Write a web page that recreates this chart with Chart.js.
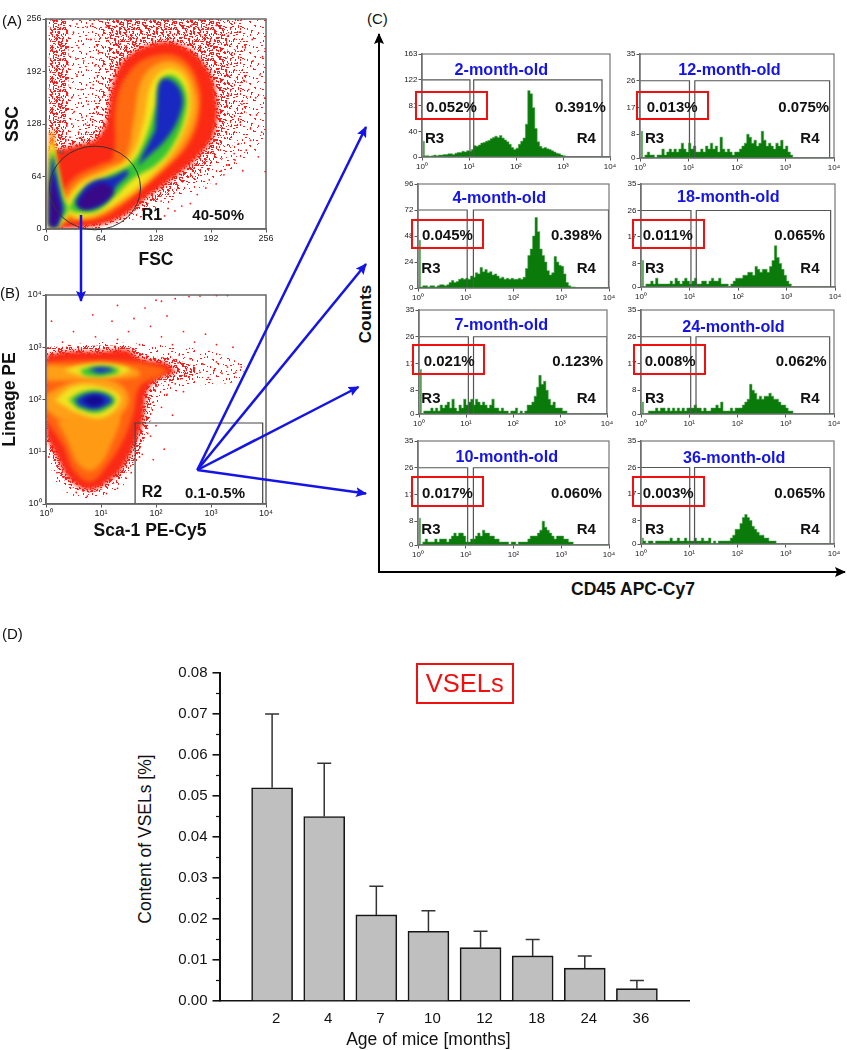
<!DOCTYPE html>
<html><head><meta charset="utf-8">
<style>
html,body{margin:0;padding:0;background:#fff;width:847px;height:1050px;overflow:hidden}
#stage{position:relative;width:847px;height:1050px;font-family:"Liberation Sans",Arial,sans-serif;color:#111}
canvas{position:absolute}
.t{position:absolute;white-space:nowrap;line-height:1}
.b{font-weight:bold}
.box{position:absolute;border-style:solid;box-sizing:border-box}
svg{position:absolute;left:0;top:0}
</style>
<script src="https://cdn.jsdelivr.net/npm/chart.js@4/dist/chart.umd.js"></script>
</head><body><div id="stage"></div>
<script>
/* ---------- Panel A: FSC / SSC density contours, flat x,y pairs ---------- */
const aSparse=[3,0,60,0,110,14,150,35,200,60,256,105,256,256,3,256];
const aMedTop=[55,256,225,256,232,200,232,135,205,85,160,50,118,25,75,6,40,2,22,70,40,105,60,170];
const aDenseTop=[70,256,200,256,212,200,210,135,190,85,150,50,110,26,70,8,40,3,24,100,62,125,75,185];
const aDenseLeft=[3,95,22,95,26,170,24,256,5,256];
const aRed=[24,99,63,115,78,177,90,205,121,225,156,225,187,197,199,156,195,115,176,87,148,62,117,38,94,18,63,5,24,1,5,1,5,95];
const aOrange=[12,34,32,62,63,79,78,87,82,156,98,193,125,211,156,209,176,181,179,144,168,107,145,79,117,54,90,30,63,13,32,9,9,5];
const aAmber=[18,30,38,58,71,75,92,87,102,132,111,181,133,203,158,199,174,168,174,136,158,99,133,71,106,46,78,26,51,13,30,13];
const aYellow=[20,26,40,54,75,71,98,87,113,128,123,177,141,195,160,187,168,156,162,124,145,91,121,64,90,38,63,20,36,13];
const aGreen=[26,24,40,46,71,64,98,79,113,103,127,148,133,181,148,187,162,168,162,140,148,103,129,79,102,62,78,38,59,22,36,20];
const aBlueLow=[34,34,51,56,78,64,95,72,95,66,82,52,71,34,51,24,38,26];
const aBlueUp=[127,120,129,148,133,180,145,182,158,165,156,140,140,110,115,85,108,78,112,90];
const aPurple=[36,30,47,46,67,56,78,46,71,36,55,26,42,24];
const aStemOrange=[4,2,4,115,9,120,13,60,18,20,12,2];
const aStemYellow=[3,2,4,100,8,105,12,85,22,40,30,24,20,8,14,1];
const aStemGreen=[3,3,5,83,8,95,11,83,20,38,26,24,16,9,14,2];
const aStemBlue=[4,3,5,70,8,88,11,70,18,36,20,24,15,8,13,2];
const aStemPurple=[4,4,5,50,8,66,11,50,16,30,17,20,13,8,11,3];
const aSpeckle=[32,240,38,221,44,205,36,188,41,170,49,152,33,143,52,231,57,199,46,128,38,118,55,176,61,214,30,160,48,246,35,207,
 225,240,232,221,241,205,249,188,236,170,228,152,245,139,251,118,238,122,224,104,233,96,247,88,219,92,212,78,229,71,207,66,240,231,252,210,
 216,214,230,181,244,160,226,130,204,71,198,55,186,50,176,42,168,31,158,28,150,22,138,16,127,12,121,22,134,34,142,25,190,60,220,84,238,108,
 42,136,30,128,28,112,60,140,70,246,95,250,130,252,170,249,198,248,212,236,36,250,54,250,14,240,18,222,22,198,10,180,16,160,12,212,255,160,255,70,255,220];
const r1Gate=[57,50,53,51];

/* ---------- Panel B: log10 positions of the Sca-1 / Lineage density contours ---------- */
const bSparse=[0,1.1,.2,.35,.6,.12,1,.14,1.4,.35,1.7,.9,1.8,1.5,2.1,2,2.6,2.25,3.5,2.35,3.6,2.65,2.9,2.95,2,3.05,1,3.1,0,3];
const bHalo=[0,3,1.47,3.02,1.8,2.85,2.3,2.78,2.7,2.62,2.7,2.45,2.1,2.3,1.95,2.1,1.9,1.6,1.75,1.15,1.5,.65,1.25,.4,.8,.22,.4,.38,.15,.8,0,1.2];
const bRed=[0,2.85,.38,2.92,.98,2.92,1.47,2.95,1.71,2.79,2.2,2.69,2.3,2.6,2.35,2.52,2.02,2.38,1.83,2.12,1.77,1.61,1.65,1.23,1.41,.72,1.17,.46,.8,.27,.44,.46,.19,.91,0,1.29];
const bDeep=[0,2.72,.68,2.75,1.59,2.72,2.2,2.57,2.05,2.44,1.71,2.25,1.59,1.74,1.41,1.23,1.1,.72,.8,.43,.5,.65,.32,1.1,0,1.61];
const bAmberTop=[0,2.66,.68,2.63,1.6,2.6,1.7,2.45,.9,2.38,0,2.36];
const bAmberMid=[0,2.1,.56,2.36,1.2,2.36,1.5,2.05,1.3,1.65,.9,1.5,.3,1.6,0,1.8];
const bAmberLow=[.2,1.6,1.3,1.74,1.17,1.1,.86,.65,.6,.75,.38,1.23];
const bYellowTop=[.32,2.56,.68,2.67,1.17,2.69,1.53,2.57,1.23,2.45,.68,2.44];
const bYellowLow=[.16,1.99,.5,2.25,.98,2.25,1.35,2.06,1.23,1.77,.92,1.64,.5,1.77];
const bGreenTop=[.62,2.57,.92,2.63,1.29,2.6,1.32,2.52,.98,2.44,.68,2.47];
const bGreenLow=[.41,2,.68,2.15,1.04,2.15,1.26,2,1.14,1.84,.89,1.74,.56,1.84];
const bBlueTop=[.77,2.57,.98,2.62,1.23,2.57,.98,2.5];
const bBlueLow=[.53,2,.74,2.11,1.04,2.11,1.2,1.98,1.07,1.87,.86,1.81,.59,1.88];
const bNavyLow=[.65,1.99,.86,2.08,1.04,2.02,1.01,1.9,.8,1.87];
const bSpeckle=[2.1,2.72,2.25,2.62,2.4,2.7,2.55,2.45,2.7,2.6,2.8,2.52,2.85,2.68,2.95,2.42,3.05,2.55,3.1,2.72,3.2,2.5,3.3,2.62,3.45,2.52,3.55,2.62,2.62,2.78,2.42,2.85,
 2,2.25,2.2,2.1,2.35,2.3,2.5,2.15,1.95,1.95,2.1,1.85,2.3,1.7,2,1.5,1.85,1.35,2.15,1.05,1.95,.85,1.75,.95,1.65,1.45,1.7,.9,1.9,1.3,
 1.3,3.15,1.5,3.3,1.7,3.05,1.9,3.4,2.1,3.2,2.3,3.05,2.5,3.3,2.7,3.1,2.9,3.25,3.1,3.05,3.4,3,.9,3.2,.5,3.3,1.2,3.5,1.6,3.55,1.8,3.75,2.2,3.6,
 1.3,3.8,2,3.9,2.1,3.88,2.35,3.93,2.6,3.97,2.8,3.98,3.1,3.99,3.3,3.99,.85,3.62,.3,3.1,.1,3.5,.1,1.1,.05,.9,.2,.6,.35,.5,.55,.22,.75,.15,1.1,.2,1.3,.3,1.45,.5,1.55,.6];
const r2Gate=[1.62,3.94,0,1.55];

/* ---------- Panel C: CD45 histograms, counts per bin (20 bins per decade) ---------- */
const panelNames=['2-month-old','4-month-old','7-month-old','10-month-old','12-month-old','18-month-old','24-month-old','36-month-old'];
const r3Percent=['0.052%','0.045%','0.021%','0.017%','0.013%','0.011%','0.008%','0.003%'];
const r4Percent=['0.391%','0.398%','0.123%','0.060%','0.075%','0.065%','0.062%','0.065%'];
const h2=[25,2,2,1,2,3,2,3,3,4,4,5,5,4,6,7,7,9,8,10,9,12,18,17,19,22,23,25,26,29,31,33,31,34,30,27,24,20,15,12,14,20,25,30,52,105,100,78,45,24,17,14,15,13,12,10,8,6,5,3,2,1];
const h4=[44,1,2,2,1,2,2,1,2,3,3,2,3,5,7,5,6,8,9,8,9,8,11,10,14,13,19,15,17,14,15,12,13,11,9,10,8,9,8,9,8,8,9,8,10,18,30,36,48,65,52,36,30,24,16,12,14,29,24,21,20,13,5,2,1,1];
const h7=[15,0,1,1,1,2,1,2,1,3,2,3,4,2,5,2,1,3,2,5,3,4,5,3,5,4,3,4,3,2,3,5,2,2,1,2,1,1,0,1,1,2,0,1,0,1,3,3,4,6,9,13,10,11,8,5,3,4,2,2,2,1,1];
const h10=[9,0,1,2,1,1,1,2,1,2,2,2,1,2,3,4,3,4,4,3,1,1,2,2,3,4,3,5,4,4,3,3,2,2,1,1,1,1,0,1,1,0,1,1,1,1,2,3,3,3,4,5,8,6,5,4,3,2,3,3,3,2,2,1,1];
const h12=[9,0,1,2,1,1,0,1,1,3,1,2,3,2,3,2,3,5,3,2,5,3,4,2,2,3,2,4,3,5,3,4,2,7,3,2,3,2,1,2,2,3,4,5,8,7,5,6,4,5,9,6,4,5,4,3,5,4,6,3,4,2,1];
const h18=[9,0,1,1,2,1,3,1,1,1,1,1,2,1,3,2,1,2,3,2,1,2,3,1,1,2,2,1,2,3,2,2,3,1,1,1,0,1,2,3,3,3,4,4,5,5,4,7,6,5,6,6,5,7,9,14,10,8,6,4,2,1];
const h24=[4,0,0,1,1,1,2,1,2,2,1,2,1,2,1,2,1,2,1,2,2,2,3,2,2,1,2,1,1,2,2,3,2,4,1,1,1,2,1,2,2,2,3,4,5,10,8,7,5,6,5,6,6,7,6,5,5,4,3,3,2,1,1];
const h36=[2,1,0,1,1,0,1,1,1,1,1,1,2,1,1,2,1,1,2,1,1,1,2,1,1,2,1,1,2,0,1,0,1,1,1,1,1,2,3,5,5,7,9,10,9,8,6,5,4,3,3,2,2,1,1,1];
const histograms=[h2,h4,h7,h10,h12,h18,h24,h36];
const yTicks5=[0,40,81,122,163], yTicks4=[0,24,48,72,96], yTicksLow=[0,8,17,26,35];
const histTicks=[yTicks5,yTicks4,yTicksLow,yTicksLow,yTicksLow,yTicksLow,yTicksLow,yTicksLow];
const gateLevels=[122,72,26,26,26,26,26,26];
const r3Right=[1.02,1.03,1.05,1.04,1.02,1.03,1.03,1.01];
const r4Left=[1.10,1.16,1.16,1.16,1.13,1.14,1.14,1.11];
const r4Right=[3.83,3.99,4,4,3.91,3.91,3.91,3.92];

/* ---------- Panel D: bars ---------- */
const ages=['2','4','7','10','12','18','24','36'];
const vselMean=[0.052,0.045,0.021,0.017,0.013,0.011,0.008,0.003];
const vselUpper=[0.070,0.058,0.028,0.022,0.017,0.015,0.011,0.005];
const minorTicksD=[0.005,0.015,0.025,0.035,0.045,0.055,0.065,0.075];

/* ---------- helpers ---------- */
const stage=document.getElementById('stage');
Chart.defaults.font.family='"Liberation Sans",Arial,sans-serif';
Chart.defaults.animation=false;
Chart.defaults.responsive=false;
Chart.defaults.events=[];
Chart.defaults.plugins.legend.display=false;
Chart.defaults.plugins.tooltip.enabled=false;
const SUP=['\u2070','\u00B9','\u00B2','\u00B3','\u2074'];
const pairs=(f,m)=>{const o=[];for(let i=0;i<f.length;i+=2)o.push(m?{x:m(f[i]),y:m(f[i+1])}:{x:f[i],y:f[i+1]});return o;};
const tenTo=v=>Math.pow(10,v);

/* speckle texture: a fixed tile used as a fill style for the sparse event regions */
const tileDots=[[2,3],[9,1],[15,5],[23,2],[31,4],[35,9],[5,9],[12,11],[19,8],[27,10],[33,14],[1,15],[8,16],[16,14],[22,17],[29,19],[36,21],[4,22],[11,24],[18,20],[25,25],[32,27],[7,29],[14,28],[21,30],[28,23]];
const tileShifts=[[0,0],[13,6],[24,13],[6,19],[17,25],[30,8],[3,12],[21,3],[10,27],[28,17],[35,24],[14,15]];
function speckleFill(levels){
  const c=document.createElement('canvas');c.width=37;c.height=31;const g=c.getContext('2d');g.fillStyle='#fb1c1c';
  for(let s=0;s<levels;s++)tileDots.forEach((d,i)=>{const x=(d[0]+tileShifts[s][0])%37,y=(d[1]+tileShifts[s][1])%31;
    g.fillRect(x,y,i%3===0?2:1,i%3===1?2:1);});
  return g.createPattern(c,'repeat');
}
const FEW=speckleFill(2),SOME=speckleFill(5),MANY=speckleFill(12);

function mount(plot,m){
  const c=document.createElement('canvas');
  const W=plot.r-plot.l+m.l+m.r,H=plot.b-plot.t+m.t+m.b;
  c.width=Math.ceil(W);c.height=Math.ceil(H);
  c.style.left=(plot.l-m.l)+'px';c.style.top=(plot.t-m.t)+'px';
  stage.appendChild(c);
  return c;
}
function text(x,y,s,o={}){
  const d=document.createElement('div');d.className='t'+(o.bold?' b':'');d.textContent=s;
  d.style.left=x+'px';d.style.top=y+'px';d.style.fontSize=(o.size||15)+'px';
  if(o.color)d.style.color=o.color;
  const tx=o.anchor==='left'?'0':'-50%';
  d.style.transform=`translate(${tx},-50%)`+(o.rotate?' rotate(-90deg)':'');
  stage.appendChild(d);
}
function redBox(l,t,r,b,w=2.5,color='#f01010'){
  const d=document.createElement('div');d.className='box';
  d.style.cssText+=`left:${l}px;top:${t}px;width:${r-l}px;height:${b-t}px;border-width:${w}px;border-color:${color}`;
  stage.appendChild(d);
}
const frame=(color,w)=>({id:'frame',afterDatasetsDraw(ch){const a=ch.chartArea,c=ch.ctx;c.save();c.strokeStyle=color;c.lineWidth=w;c.strokeRect(a.left,a.top,a.right-a.left,a.bottom-a.top);c.restore();}});
/* solid contours are softened; speckle layers and gates stay crisp */
const soften=px=>({id:'soften',
  beforeDatasetsDraw(ch){ch.$blur=false;ch.ctx.filter='none';},
  beforeDatasetDraw(ch,a){if(ch.data.datasets[a.index].crisp)ch.ctx.filter='none';},
  afterDatasetDraw(ch,a){const d=ch.data.datasets[a.index];if(d.blurAfter)ch.$blur=true;ch.ctx.filter=ch.$blur?`blur(${px}px)`:'none';},
  afterDatasetsDraw(ch){ch.ctx.filter='none';}});
function axisBase(size,font,title,titleGap){
  return {border:{color:'#666',width:1.5},grid:{drawOnChartArea:false,drawTicks:true,tickLength:3.5,tickColor:'#555',lineWidth:1},
    ticks:{font:{size:font},color:'#222',padding:1,maxRotation:0,autoSkip:false},
    title:title?{display:true,text:title,font:{size:17.5,weight:'bold'},color:'#111',padding:{top:titleGap||0,bottom:0}}:{display:false},
    afterFit(s){if(s.isHorizontal())s.height=size;else s.width=size;}};
}
function density(list){
  return list.map((p,i)=>({data:p.pts,showLine:true,fill:'shape',backgroundColor:p.color,borderWidth:0,pointRadius:0,tension:p.t===undefined?0.4:p.t,order:-i,blurAfter:!!p.last}));
}
function speckle(data,order){return {data,showLine:false,pointRadius:.9,backgroundColor:'#ff1a1a',borderWidth:0,order,crisp:true};}

/* ---------- Panel A ---------- */
(function(){
  const plot={l:46,r:265.5,t:18.5,b:228};
  const layers=[
    {pts:pairs(aSparse),color:FEW,t:0},
    {pts:pairs(aMedTop),color:SOME,t:.3},
    {pts:pairs(aDenseLeft),color:MANY,t:.2},
    {pts:pairs(aDenseTop),color:MANY,t:.3,last:true},
    {pts:pairs(aRed),color:'#fb2a14'},
    {pts:pairs(aOrange),color:'#ff6a10'},
    {pts:pairs(aStemOrange),color:'#ff8a12'},
    {pts:pairs(aAmber),color:'#ffa818'},
    {pts:pairs(aYellow),color:'#f2e61e'},
    {pts:pairs(aStemYellow),color:'#f2e61e'},
    {pts:pairs(aGreen),color:'#35c435'},
    {pts:pairs(aStemGreen),color:'#35c435'},
    {pts:pairs(aBlueLow),color:'#1828c0'},
    {pts:pairs(aBlueUp),color:'#1828c0'},
    {pts:pairs(aStemBlue),color:'#1828c0'},
    {pts:pairs(aPurple),color:'#380a88'},
    {pts:pairs(aStemPurple),color:'#380a88'}];
  const ds=density(layers);ds.push(speckle(pairs(aSpeckle),-100));
  const mk=(title,size,gap)=>{const a=axisBase(size,9,title,gap);return Object.assign(a,{type:'linear',min:0,max:256,ticks:Object.assign(a.ticks,{stepSize:64})});};
  const ellipse={id:'r1',afterDatasetsDraw(ch){
    const sx=ch.scales.x,sy=ch.scales.y,c=ch.ctx,[cx,cy,rx,ry]=r1Gate;
    const px=sx.getPixelForValue(cx),py=sy.getPixelForValue(cy);
    c.save();c.filter='none';c.strokeStyle='#333';c.lineWidth=1;c.beginPath();
    c.ellipse(px,py,Math.abs(sx.getPixelForValue(cx+rx)-px),Math.abs(sy.getPixelForValue(cy+ry)-py),0,0,Math.PI*2);c.stroke();c.restore();}};
  new Chart(mount(plot,{l:46,r:12,t:8,b:42}),{type:'scatter',data:{datasets:ds},
    options:{layout:{padding:{left:0,right:12,top:8,bottom:0}},scales:{x:mk('FSC',42,4),y:mk('SSC',46,3)}},
    plugins:[soften(2),frame('#666',1.5),ellipse]});
})();

/* ---------- Panel B ---------- */
(function(){
  const plot={l:46,r:265.5,t:295,b:504};
  const g=tenTo,layers=[
    {pts:pairs(bSparse,g),color:FEW,t:.2},
    {pts:pairs(bHalo,g),color:MANY,t:.3,last:true},
    {pts:pairs(bRed,g),color:'#f92a16'},
    {pts:pairs(bDeep,g),color:'#ff6410'},
    {pts:pairs(bAmberTop,g),color:'#ffa018'},
    {pts:pairs(bAmberMid,g),color:'#ffa018'},
    {pts:pairs(bAmberLow,g),color:'#ff9a14'},
    {pts:pairs(bYellowTop,g),color:'#f2e222'},
    {pts:pairs(bYellowLow,g),color:'#f2e222'},
    {pts:pairs(bGreenTop,g),color:'#35c435'},
    {pts:pairs(bGreenLow,g),color:'#35c435'},
    {pts:pairs(bBlueTop,g),color:'#1830c4'},
    {pts:pairs(bBlueLow,g),color:'#1830c4'},
    {pts:pairs(bNavyLow,g),color:'#140a90'}];
  const ds=density(layers);ds.push(speckle(pairs(bSpeckle,g),-100));
  const [xa,xb,ya,yb]=r2Gate;
  ds.push({data:[{x:g(xa),y:g(ya)},{x:g(xa),y:g(yb)},{x:g(xb),y:g(yb)},{x:g(xb),y:g(ya)}],showLine:true,borderColor:'#444',borderWidth:1.2,pointRadius:0,fill:false,tension:0,order:-101,crisp:true});
  const mk=(title,size)=>{const a=axisBase(size,9,title);return Object.assign(a,{type:'logarithmic',min:1,max:10000,
    afterBuildTicks(s){s.ticks=[0,1,2,3,4].map(e=>({value:tenTo(e),major:true}));},
    ticks:Object.assign(a.ticks,{callback:v=>'10'+SUP[Math.round(Math.log10(v))]})});};
  const xAxis=mk(null,22),yAxis=mk('Lineage PE',46);
  new Chart(mount(plot,{l:46,r:12,t:8,b:22}),{type:'scatter',data:{datasets:ds},
    options:{layout:{padding:{left:0,right:12,top:8,bottom:0}},scales:{x:xAxis,y:yAxis}},
    plugins:[soften(2),frame('#666',1.5)]});
})();

/* ---------- Panel C ---------- */
const histPlots=[
 {l:422.3,r:609.6,t:54,b:156.7},{l:417.7,r:608.4,t:184,b:287.3},{l:419,r:607,t:310,b:413.7},{l:417.7,r:608,t:440.7,b:544.3},
 {l:640.3,r:834.3,t:54,b:158},{l:641,r:834.3,t:184,b:287},{l:641,r:834,t:310,b:414},{l:641,r:834,t:441.3,b:544.3}];
histograms.forEach((vals,k)=>{
  const plot=histPlots[k],lvl=gateLevels[k],ticksY=histTicks[k];
  const series=[];
  for(let i=0;i<80;i++)series.push({x:tenTo((i+.5)/20),y:i<vals.length?vals[i]:0});
  const gate=pts=>({data:pts,showLine:true,borderColor:'#555',borderWidth:1.2,pointRadius:0,fill:false,tension:0});
  const ds=[
    gate([{x:1,y:lvl},{x:tenTo(r3Right[k]),y:lvl},{x:tenTo(r3Right[k]),y:0}]),
    gate([{x:tenTo(r4Left[k]),y:0},{x:tenTo(r4Left[k]),y:lvl},{x:tenTo(r4Right[k]),y:lvl},{x:tenTo(r4Right[k]),y:0}]),
    {data:series,showLine:true,stepped:'middle',fill:'origin',backgroundColor:'#0a7a0a',borderColor:'rgba(70,160,70,.8)',borderWidth:.7,pointRadius:0}
  ];
  const xa=axisBase(14,8);
  Object.assign(xa,{type:'logarithmic',min:1,max:10000,
    afterBuildTicks(s){s.ticks=[0,1,2,3,4].map(e=>({value:tenTo(e),major:true}));},
    ticks:Object.assign(xa.ticks,{callback:v=>'10'+SUP[Math.round(Math.log10(v))]})});
  const ya=axisBase(26,8);
  Object.assign(ya,{type:'linear',min:0,max:ticksY[4],
    afterBuildTicks(s){s.ticks=ticksY.map(v=>({value:v}));}});
  new Chart(mount(plot,{l:26,r:12,t:6,b:14}),{type:'scatter',data:{datasets:ds},
    options:{layout:{padding:{left:0,right:12,top:6,bottom:0}},scales:{x:xa,y:ya}},
    plugins:[frame('#777',1.2)]});
});

/* ---------- Panel D ---------- */
(function(){
  const plot={l:220.4,r:689.2,t:669,b:1001};
  const cats=['',...ages,''],vals=[null,...vselMean,null];
  const errs={id:'errs',afterDatasetsDraw(ch){
    const c=ch.ctx,sx=ch.scales.x,sy=ch.scales.y;c.save();c.strokeStyle='#333';c.lineWidth=1.5;
    vselUpper.forEach((u,i)=>{const x=sx.getPixelForValue(i+1),t=sy.getPixelForValue(u),b=sy.getPixelForValue(vselMean[i]);
      c.beginPath();c.moveTo(x,b);c.lineTo(x,t);c.moveTo(x-7,t);c.lineTo(x+7,t);c.stroke();});
    c.strokeStyle='#111';c.lineWidth=1.2;
    minorTicksD.forEach(v=>{const y=sy.getPixelForValue(v);c.beginPath();c.moveTo(sx.left-4,y);c.lineTo(sx.left,y);c.stroke();});
    c.restore();}};
  new Chart(mount(plot,{l:62,r:4,t:10,b:30}),{type:'bar',
    data:{labels:cats,datasets:[{data:vals,backgroundColor:'#bfbfbf',borderColor:'#151515',borderWidth:1.6,barThickness:41}]},
    options:{layout:{padding:{left:0,right:4,top:10,bottom:0}},
      scales:{
       x:{type:'category',offset:false,border:{color:'#111',width:1.6},grid:{display:false},
          ticks:{font:{size:15},color:'#111',padding:1,labelOffset:4,maxRotation:0,autoSkip:false},
          afterFit(s){s.height=30;}},
       y:{min:0,max:0.08,border:{color:'#111',width:2},grid:{drawOnChartArea:false,drawTicks:true,tickLength:7.5,tickColor:'#111',lineWidth:1.6},
          ticks:{stepSize:0.01,font:{size:15},color:'#111',padding:5,callback:v=>v.toFixed(2)},
          afterFit(s){s.width=62;}}}},
    plugins:[errs]});
})();

/* ---------- Labels and boxes as real text ---------- */
text(2,20,'(A)',{anchor:'left'});text(0,292,'(B)',{anchor:'left'});text(367,18,'(C)',{anchor:'left'});text(2,633,'(D)',{anchor:'left'});
text(57,152,'R1',{anchor:'left',size:6,color:'#555'});
text(141.7,214.5,'R1',{anchor:'left',bold:true,size:16});
text(192.3,214,'40-50%',{anchor:'left',bold:true,size:15});
text(141.7,491.5,'R2',{anchor:'left',bold:true,size:16});
text(185,491.5,'0.1-0.5%',{anchor:'left',bold:true,size:15});
text(150,531,'Sca-1 PE-Cy5',{bold:true,size:17.5});
text(365,314,'Counts',{bold:true,size:17,rotate:true});
text(633,590,'CD45 APC-Cy7',{bold:true,size:17.5});
text(145.7,839,'Content of VSELs [%]',{size:17.5,rotate:true});
text(428.4,1040,'Age of mice [months]',{size:17.5});
redBox(416,662.7,513.5,704.3,2,'#f01010');
text(464.7,683.5,'VSELs',{size:25.5,color:'#f01010'});

const titlePos=[[501.3,68.7],[499.3,197],[501.3,323.7],[506.8,456.3],[729.5,69],[728.3,196],[733.5,326],[734.2,456.7]];
const pctL=[[426,106.3],[422,234],[423.7,360.3],[422,491.7],[646.7,106.3],[642.7,234],[644.7,360.3],[642.7,491.7]];
const pctR=[555,551,552.3,551,778.3,774.3,775.7,774.3];
const rLeft=[425,421.3,421.3,421.3,645,645,645,645];
const rRight=[576.7,576.7,576.7,576.7,800.3,800.3,800.3,800.3];
const rY=[136.7,267,396.7,528,136.7,267,396.7,528];
const boxes=[[415,91,487.7,120.3],[411.3,219,484.3,249],[412.3,344.3,485.3,374.7],[411.3,476.3,484.3,506.7],
 [636,91,708.7,120.3],[632,219,705.3,249],[633.3,344.3,706.3,374.7],[632,476.3,705.3,506.7]];
panelNames.forEach((n,k)=>{
  text(titlePos[k][0],titlePos[k][1],n,{bold:true,size:16.2,color:'#1414e6'});
  text(pctL[k][0],pctL[k][1],r3Percent[k],{anchor:'left',bold:true,size:15});
  text(pctR[k],pctL[k][1],r4Percent[k],{anchor:'left',bold:true,size:15});
  text(rLeft[k],rY[k],'R3',{anchor:'left',bold:true,size:15});
  text(rRight[k],rY[k],'R4',{anchor:'left',bold:true,size:15});
  redBox(boxes[k][0],boxes[k][1],boxes[k][2],boxes[k][3]);
});

/* ---------- Arrows ---------- */
const ns='http://www.w3.org/2000/svg';
const svg=document.createElementNS(ns,'svg');svg.setAttribute('width',847);svg.setAttribute('height',1050);
svg.innerHTML=`<defs>
<marker id="bh" markerUnits="userSpaceOnUse" markerWidth="12" markerHeight="10" refX="10" refY="5" orient="auto"><path d="M0 0L11 5L0 10L2 5Z" fill="#1414e6"/></marker>
<marker id="kh" markerUnits="userSpaceOnUse" markerWidth="12" markerHeight="10" refX="10" refY="5" orient="auto"><path d="M0 0L11 5L0 10L2 5Z" fill="#000"/></marker></defs>
${[[81,215,81,301],[197.3,470,366,127],[197.3,470,366,264],[197.3,470,358.5,387],[197.3,470,366,493.5]].map(a=>`<line x1="${a[0]}" y1="${a[1]}" x2="${a[2]}" y2="${a[3]}" stroke="#1414e6" stroke-width="2.5" marker-end="url(#bh)"/>`).join('')}
<path d="M379 572L379 34" fill="none" stroke="#000" stroke-width="2" marker-end="url(#kh)"/>
<path d="M378 572L845 572" fill="none" stroke="#000" stroke-width="2" marker-end="url(#kh)"/>`;
stage.appendChild(svg);
</script></body></html>
